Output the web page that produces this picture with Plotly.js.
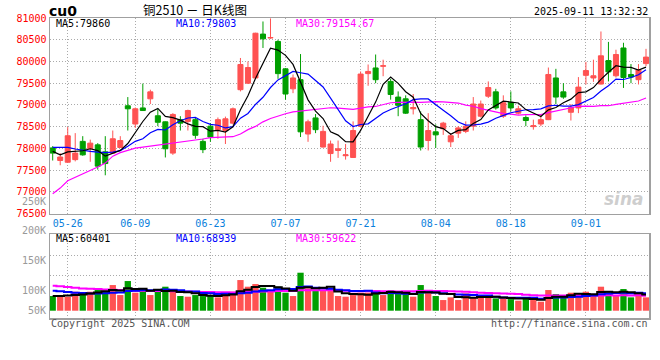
<!DOCTYPE html>
<html><head><meta charset="utf-8">
<script src="https://cdn.plot.ly/plotly-3.0.1.min.js"></script>
<style>html,body{margin:0;padding:0;background:#fff}#chart{width:660px;height:360px}</style>
</head><body><div id="chart"></div>
<script>
const dates = ['05-22','05-23','05-26','05-27','05-28','05-29','05-30','06-03','06-04','06-05',
 '06-06','06-09','06-10','06-11','06-12','06-13','06-16','06-17','06-18','06-19',
 '06-20','06-23','06-24','06-25','06-26','06-27','06-30','07-01','07-02','07-03',
 '07-04','07-07','07-08','07-09','07-10','07-11','07-14','07-15','07-16','07-17',
 '07-18','07-21','07-22','07-23','07-24','07-25','07-28','07-29','07-30','07-31',
 '08-01','08-04','08-05','08-06','08-07','08-08','08-11','08-12','08-13','08-14',
 '08-15','08-18','08-19','08-20','08-21','08-22','08-25','08-26','08-27','08-28',
 '08-29','09-01','09-02','09-03','09-04','09-05','09-08','09-09','09-10','09-11'];

const openP = [78010,77720,77680,77740,78160,77990,78080,77920,77890,78020,
 78980,78560,78930,79140,78750,78610,77890,78660,78620,78660,
 78160,78510,78430,78410,78580,79350,79500,79620,80630,80540,
 80460,79830,79370,79580,78330,78700,78030,77880,77950,77830,
 77790,78510,79720,79850,79890,79540,79180,79140,78910,78660,
 78180,78380,78450,78150,78350,78390,78510,78740,79200,79300,
 78740,79060,78810,78710,78500,78560,78660,79620,79300,78830,
 78930,79680,79620,79480,80020,79670,80310,79700,79580,79950];
const highP = [78050,77890,78490,78350,78280,78200,78120,78280,78410,78280,
 79180,78940,79490,79350,78910,78620,78810,78740,78890,78700,
 78220,78580,78710,78730,78940,80080,80000,80660,80920,80990,
 80500,79850,79700,80170,78660,78790,78520,78180,78180,78100,
 78620,79770,79930,80160,80040,79600,79310,79220,79250,78850,
 78810,78550,78610,78350,78510,78620,79180,79100,79540,79370,
 79220,79310,78980,78760,78660,78780,79860,79830,79500,79020,
 79640,79990,80040,80690,80450,80270,80430,79940,79940,80290];
const lowP = [77720,77610,77670,77700,77830,77690,77510,77380,77870,78010,
 78410,78470,78860,79020,78510,77790,77850,78410,78410,78220,
 77890,78150,78220,78100,78550,79310,79480,79600,80310,80520,
 79600,79120,79270,78260,78150,78350,78020,77690,77780,77740,
 77780,78480,79440,79500,79660,79120,78740,78790,78780,77950,
 77950,78010,78310,78030,78240,78350,78410,78710,79160,78890,
 78700,78850,78780,78510,78430,78510,78650,79020,79140,78640,
 78810,79470,79530,79470,79540,79630,79390,79500,79470,79890];
const closeP = [77890,77800,78290,77890,77850,78120,77590,77650,78220,78180,
 78910,78910,78870,79300,78600,77990,78780,78580,78870,78300,
 77970,78260,78660,78680,78910,79930,79860,80650,80520,80550,
 79720,79250,79620,78380,78610,78430,78390,78100,77990,77850,
 78410,79710,79770,79580,79900,79240,78990,78810,78940,78030,
 78410,78310,78580,78290,78470,78510,79020,79020,79400,78930,
 79050,78930,78910,78640,78520,78660,79700,79180,79180,78940,
 79410,79790,79670,80130,79760,80160,79630,79640,79810,80100];

const ma5 = [77930,77850,77920,77940,77944,77990,77948,77820,77886,77952,
 78110,78374,78618,78834,78918,78734,78708,78650,78564,78504,
 78500,78396,78412,78374,78496,78888,79208,79608,79976,80304,
 80262,80140,79932,79504,79116,78858,78686,78382,78304,78152,
 78148,78412,78746,79064,79474,79640,79496,79304,79176,78802,
 78636,78500,78454,78324,78412,78432,78574,78662,78884,78976,
 79084,79066,79044,78892,78810,78732,78886,78940,79048,79132,
 79282,79300,79398,79588,79752,79902,79870,79864,79800,79868];
const ma10 = [78020,78020,78020,77985,77950,77930,77915,77900,77915,77948,
 78050,78161,78219,78360,78435,78422,78541,78634,78699,78711,
 78617,78552,78531,78469,78500,78694,78802,79010,79175,79400,
 79575,79674,79770,79740,79710,79560,79413,79157,78904,78634,
 78503,78549,78564,78684,78813,78894,78954,79025,79120,79138,
 79138,78998,78879,78750,78607,78534,78537,78558,78604,78694,
 78758,78820,78853,78888,78893,78908,78976,78992,78970,78971,
 79007,79093,79169,79318,79442,79592,79585,79631,79694,79810];
const ma30 = [76955,77085,77255,77330,77415,77495,77570,77660,77820,77900,
 77960,78005,78030,78053,78075,78095,78110,78135,78160,78190,
 78215,78245,78254,78254,78268,78330,78430,78505,78610,78686,
 78747,78796,78840,78856,78882,78892,78919,78934,78926,78915,
 78898,78925,78955,78964,79008,79049,79056,79064,79066,79057,
 79072,79074,79071,79058,79043,78996,78968,78913,78876,78822,
 78800,78789,78765,78774,78771,78779,78822,78858,78898,78934,
 78968,78970,78967,78985,78981,79011,79033,79060,79089,79158];

// volume in thousands of lots
const volumeK = [60.4,64.5,57.6,78.2,74.1,78.2,87.8,81.0,105.6,64.5,
 122.1,74.1,85.1,64.5,85.1,98.8,78.2,60.4,57.6,64.5,
 60.4,64.5,54.9,74.1,78.2,126.2,98.8,109.8,94.7,81.0,
 98.8,74.1,60.4,156.4,91.9,81.0,81.0,80.9,60.4,57.6,
 64.5,74.1,74.1,85.1,64.5,85.1,68.6,68.6,57.6,105.6,
 80.9,60.4,43.9,54.9,43.9,71.3,54.9,54.9,54.9,50.8,
 54.9,48.0,41.2,54.9,43.9,37.0,85.1,68.6,54.9,74.1,
 68.6,78.2,64.5,98.8,78.2,60.4,89.2,54.9,74.1,54.9];
const volMa5 = [60.4,61,63,64.5,67.0,70.5,75.2,79.9,85.3,83.4,
 92.2,89.5,90.3,82.1,86.2,81.5,82.3,77.4,76.0,71.9,
 64.2,61.5,60.4,63.7,66.4,79.6,86.4,97.4,101.5,102.1,
 96.6,91.7,81.8,94.1,96.3,92.8,94.1,98.2,79.0,72.2,
 68.9,67.5,66.1,71.1,72.5,76.6,75.5,74.4,68.9,77.1,
 76.3,74.6,69.7,69.1,56.8,54.9,53.8,56.0,56.0,57.4,
 54.1,52.7,50.0,50.0,48.6,45.0,52.4,57.9,57.9,63.9,
 70.3,68.9,68.1,76.8,77.7,76.0,78.2,76.3,71.4,66.7];
const volMa10 = [82.3,79.6,76.8,74.1,72.7,71.3,71.3,72.0,73.5,75.2,
 81.4,82.3,85.1,83.7,84.8,86.9,85.9,83.8,79.0,79.0,
 72.9,71.9,68.9,69.9,69.2,71.9,74.0,78.9,82.6,84.3,
 88.1,89.1,89.6,97.8,99.2,94.7,92.9,90.0,86.6,84.3,
 80.8,80.8,82.2,75.1,72.3,72.7,71.5,70.3,70.0,74.8,
 76.4,75.1,72.0,69.0,67.0,65.6,64.2,62.8,62.6,57.1,
 54.5,53.2,53.0,53.0,53.0,49.5,52.6,53.9,53.9,56.3,
 57.6,60.7,63.0,67.4,70.8,73.1,73.6,72.2,74.1,72.2];
const volMa30 = [102.9,100.2,97.4,94.7,91.9,90.6,89.2,87.8,86.4,85.1,
 82.3,82.3,82.0,81.5,81.0,81.0,80.5,80.0,79.0,78.0,
 77.0,76.5,76.0,75.5,75.0,76.0,77.0,78.0,79.0,79.5,
 80.8,81.1,81.2,83.8,84.4,84.5,84.3,84.3,82.7,82.5,
 80.6,80.6,80.2,80.9,80.2,79.8,79.5,79.7,79.7,81.1,
 81.8,81.6,81.3,80.6,79.5,77.7,76.2,74.4,73.0,72.0,
 70.6,69.7,69.1,65.7,64.1,62.6,62.8,62.3,62.2,62.7,
 62.8,63.0,62.7,63.1,63.6,62.8,63.4,63.0,63.5,61.8];

const dateTicks = ['05-26','06-09','06-23','07-07','07-21','08-04','08-18','09-01'];
const priceTicks = [76500,77000,77500,78000,78500,79000,79500,80000,80500,81000];
const volTickLabels = ['250K','200K','150K','100K','50K'];
const volGridVals = [146.9, 229.2];

const UP = '#ff5252', DOWN = '#009f00';
const MONO = 'DejaVu Sans Mono';
const volColors = closeP.map((c, i) => c > openP[i] ? UP : DOWN);

const traces = [
  {type:'candlestick', x:dates, open:openP, high:highP, low:lowP, close:closeP,
   xaxis:'x', yaxis:'y', whiskerwidth:0, hoverinfo:'skip',
   increasing:{line:{color:UP, width:1}, fillcolor:UP},
   decreasing:{line:{color:DOWN, width:1}, fillcolor:DOWN}},
  {type:'scatter', mode:'lines', x:dates, y:ma30, xaxis:'x', yaxis:'y', line:{color:'#ff00ff', width:1.2}, hoverinfo:'skip'},
  {type:'scatter', mode:'lines', x:dates, y:ma10, xaxis:'x', yaxis:'y', line:{color:'#0000ff', width:1.2}, hoverinfo:'skip'},
  {type:'scatter', mode:'lines', x:dates, y:ma5, xaxis:'x', yaxis:'y', line:{color:'#000000', width:1.2}, hoverinfo:'skip'},
  {type:'bar', x:dates, y:volumeK, xaxis:'x2', yaxis:'y2', marker:{color:volColors, line:{width:0}}, hoverinfo:'skip'},
  {type:'scatter', mode:'lines', x:dates, y:volMa30, xaxis:'x2', yaxis:'y2', line:{color:'#ff00ff', width:2, shape:'hvh'}, hoverinfo:'skip'},
  {type:'scatter', mode:'lines', x:dates, y:volMa10, xaxis:'x2', yaxis:'y2', line:{color:'#0000ff', width:2, shape:'hvh'}, hoverinfo:'skip'},
  {type:'scatter', mode:'lines', x:dates, y:volMa5, xaxis:'x2', yaxis:'y2', line:{color:'#000000', width:2, shape:'hvh'}, hoverinfo:'skip'}
];

const GRID = '#aaaaaa', FRAME = '#a0a0a0';
const px = v => (v - 50) / 599;          // helper: plot-area pixel -> paper x
const py = v => (318 - v) / 300;         // helper: plot-area pixel -> paper y
function ann(text, x, y, color, anchor, size, family, extra) {
  return Object.assign({text, x:px(x), y:py(y), xref:'paper', yref:'paper', showarrow:false,
    xanchor:anchor, yanchor:'middle', borderpad:0,
    font:{family:family || MONO, size:size || 10, color}}, extra || {});
}

const annotations = [
  ann('<b>cu0</b>', 48, 11.5, '#000', 'left', 14, 'DejaVu Sans'),
  ann('铜2510 － 日K线图', 195, 9.5, '#000', 'center', 12.5, 'Noto Sans CJK SC'),
  ann('2025-09-11 13:32:32', 649, 12, '#000', 'right', 10),
  ann('MA5:79860', 55, 23.5, '#000', 'left', 10),
  ann('MA10:79803', 175, 23.5, '#0000ff', 'left', 10),
  ann('MA30:79154.67', 295, 23.5, '#ff00ff', 'left', 10),
  ann('MA5:60401', 55, 238.5, '#000', 'left', 10),
  ann('MA10:68939', 175, 238.5, '#0000ff', 'left', 10),
  ann('MA30:59622', 295, 238.5, '#ff00ff', 'left', 10),
  ann(volTickLabels[0], 47, 201, '#999', 'right', 10),
  ann(volTickLabels[1], 47, 230.5, '#999', 'right', 10),
  ann(volTickLabels[2], 47, 260.5, '#999', 'right', 10),
  ann(volTickLabels[3], 47, 290, '#999', 'right', 10),
  ann(volTickLabels[4], 47, 310, '#999', 'right', 10),
  ann('Copyright 2025 SINA.COM', 50, 323.5, '#555', 'left', 10),
  ann('http://finance.sina.com.cn', 649, 323.5, '#555', 'right', 10),
  ann('<b><i>sina</i></b>', 624, 199, 'rgba(190,190,190,0.75)', 'center', 17, 'DejaVu Sans')
];

const axisCommon = {showgrid:true, gridcolor:GRID, gridwidth:1, griddash:'1px,2px',
  showline:true, linecolor:FRAME, linewidth:1.5, mirror:true, zeroline:false, fixedrange:true, ticks:''};

const layout = {
  width:660, height:360,
  margin:{l:50, r:11, t:18, b:42, pad:0},
  paper_bgcolor:'#ffffff', plot_bgcolor:'#ffffff',
  showlegend:false,
  font:{family:MONO, size:10, color:'#000'},
  boxgap:0.33, boxgroupgap:0, bargap:0.16,
  xaxis:Object.assign({}, axisCommon, {type:'category', categoryorder:'array', categoryarray:dates,
    domain:[0,1], anchor:'y', range:[-0.36, 79.4], tickmode:'array', tickvals:dateTicks, ticktext:dateTicks,
    tickfont:{family:MONO, size:10, color:'#0a7fdc'}, rangeslider:{visible:false}}),
  yaxis:Object.assign({}, axisCommon, {domain:[0.3483,1], anchor:'x', range:[76500,81000],
    tickmode:'array', tickvals:priceTicks, ticktext:priceTicks.map(String),
    tickfont:{family:MONO, size:10, color:'#ff0000'}}),
  xaxis2:Object.assign({}, axisCommon, {type:'category', categoryorder:'array', categoryarray:dates,
    domain:[0,1], anchor:'y2', matches:'x', tickmode:'array', tickvals:dateTicks, showticklabels:false}),
  yaxis2:Object.assign({}, axisCommon, {domain:[0,0.28], anchor:'x2', range:[-30, 315.7],
    tickmode:'array', tickvals:volGridVals, showticklabels:false}),
  annotations
};

Plotly.newPlot('chart', traces, layout, {staticPlot:true, displayModeBar:false});
</script>
</body></html>
